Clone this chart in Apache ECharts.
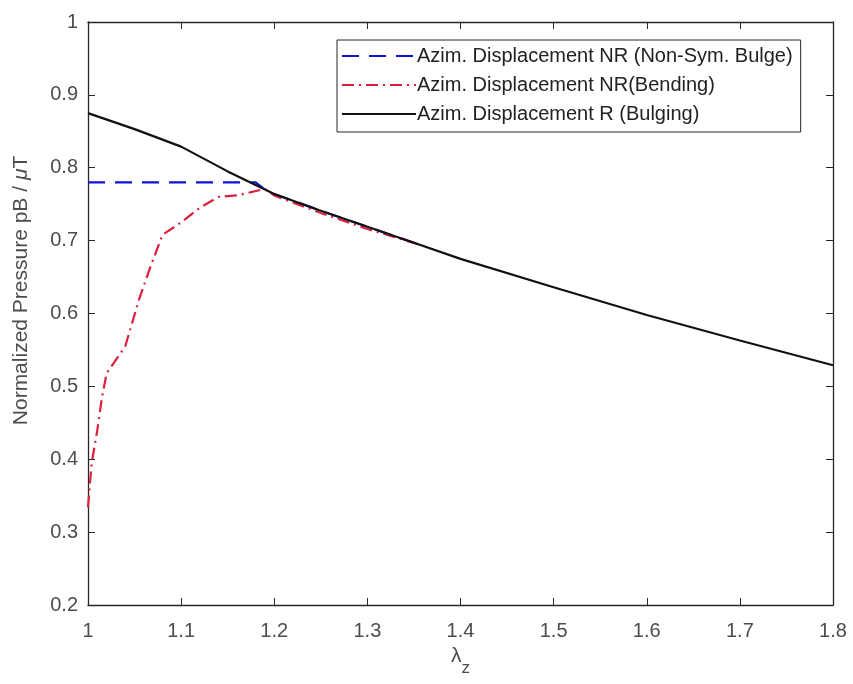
<!DOCTYPE html>
<html>
<head>
<meta charset="utf-8">
<script src="https://cdn.jsdelivr.net/npm/echarts@6/dist/echarts.min.js"></script>
<style>html,body{margin:0;padding:0;background:#fff;}#c{width:853px;height:684px;}</style>
</head>
<body>
<div id="c"></div>
<script>
var seriesNames = ['Azim. Displacement NR (Non-Sym. Bulge)', 'Azim. Displacement NR(Bending)', 'Azim. Displacement R (Bulging)'];
var xNonSym = [1.0, 1.18, 1.19, 1.2, 1.25, 1.3, 1.35];
var yNonSym = [0.78, 0.78, 0.770, 0.764, 0.741, 0.719, 0.697];
var xBending = [1.0, 1.004, 1.01, 1.015, 1.02, 1.04, 1.055, 1.067, 1.08, 1.1, 1.12, 1.14, 1.16, 1.19, 1.2, 1.25, 1.3, 1.36];
var yBending = [0.334, 0.395, 0.44, 0.485, 0.518, 0.555, 0.62, 0.664, 0.708, 0.725, 0.745, 0.76, 0.762, 0.771, 0.762, 0.738, 0.716, 0.693];
var xBulging = [1.0, 1.05, 1.1, 1.15, 1.2, 1.25, 1.3, 1.35, 1.4, 1.5, 1.6, 1.7, 1.8];
var yBulging = [0.875, 0.853, 0.829, 0.795, 0.764, 0.741, 0.719, 0.697, 0.675, 0.636, 0.598, 0.563, 0.529];
var xTicks = [1, 1.1, 1.2, 1.3, 1.4, 1.5, 1.6, 1.7, 1.8];
var yTicks = [0.2, 0.3, 0.4, 0.5, 0.6, 0.7, 0.8, 0.9, 1];

function zip(xs, ys) { return xs.map(function (x, i) { return [x, ys[i]]; }); }

var axisColor = '#262626';
var labelColor = '#4d4d4d';
var font = 'Liberation Sans, Arial, sans-serif';

var chart = echarts.init(document.getElementById('c'));
chart.setOption({
  animation: false,
  backgroundColor: '#fff',
  grid: { left: 88, right: 20, top: 22, bottom: 79 },
  legend: {
    orient: 'vertical',
    left: 337, top: 40,
    padding: [6, 8, 8, 4],
    itemGap: 9,
    itemWidth: 74, itemHeight: 14,
    borderColor: axisColor, borderWidth: 1,
    backgroundColor: '#fff',
    itemStyle: { opacity: 0 },
    textStyle: { fontSize: 20, lineHeight: 20, fontFamily: font, color: '#222', padding: [0, 0, 0, -4] },
    data: seriesNames
  },
  xAxis: [{
    type: 'value', min: 1, max: 1.8, interval: 0.1,
    name: '{a|λ}{b|z}', nameLocation: 'middle', nameGap: 38,
    nameTextStyle: { rich: { a: { fontSize: 21, fontFamily: font, color: labelColor, padding: [0, 0, 8, 0] }, b: { fontSize: 17, fontFamily: font, color: labelColor, padding: [16, 0, 0, 0] } } },
    axisLine: { lineStyle: { color: axisColor, width: 1.3 } },
    axisTick: { inside: true, length: 7, lineStyle: { color: axisColor } },
    axisLabel: { fontSize: 20, fontFamily: font, color: labelColor, margin: 16,
      formatter: function (v) { return String(Math.round(v * 10) / 10); } },
    splitLine: { show: false }
  }, {
    type: 'value', min: 1, max: 1.8, interval: 0.1, position: 'top',
    axisLine: { show: true, lineStyle: { color: axisColor, width: 1.3 } },
    axisTick: { show: true, inside: true, length: 7, lineStyle: { color: axisColor } },
    axisLabel: { show: false }, splitLine: { show: false }
  }],
  yAxis: [{
    type: 'value', min: 0.2, max: 1, interval: 0.1,
    name: 'Normalized Pressure pB / {i|μ}T', nameLocation: 'middle', nameGap: 56,
    nameTextStyle: { fontSize: 21, fontFamily: font, color: labelColor, padding: [0, 0, 0, 46],
      rich: { i: { fontSize: 21, fontFamily: font, fontStyle: 'italic', color: labelColor } } },
    axisLine: { lineStyle: { color: axisColor, width: 1.3 } },
    axisTick: { inside: true, length: 7, lineStyle: { color: axisColor } },
    axisLabel: { fontSize: 20, fontFamily: font, color: labelColor, margin: 10,
      formatter: function (v) { return String(Math.round(v * 10) / 10); } },
    splitLine: { show: false }
  }, {
    type: 'value', min: 0.2, max: 1, interval: 0.1, position: 'right',
    axisLine: { show: true, lineStyle: { color: axisColor, width: 1.3 } },
    axisTick: { show: true, inside: true, length: 7, lineStyle: { color: axisColor } },
    axisLabel: { show: false }, splitLine: { show: false }
  }],
  series: [{
    name: seriesNames[0], type: 'line', symbol: 'none', data: zip(xNonSym, yNonSym),
    lineStyle: { color: '#1010d8', width: 2.2, type: [17, 10] }, itemStyle: { color: '#1010d8' }
  }, {
    name: seriesNames[1], type: 'line', symbol: 'none', data: zip(xBending, yBending),
    lineStyle: { color: '#dc1f3c', width: 2.2, type: [12, 5, 2, 5] }, itemStyle: { color: '#dc1f3c' }
  }, {
    name: seriesNames[2], type: 'line', symbol: 'none', data: zip(xBulging, yBulging),
    lineStyle: { color: '#111', width: 2.2 }, itemStyle: { color: '#111' }
  }]
});
</script>
</body>
</html>
